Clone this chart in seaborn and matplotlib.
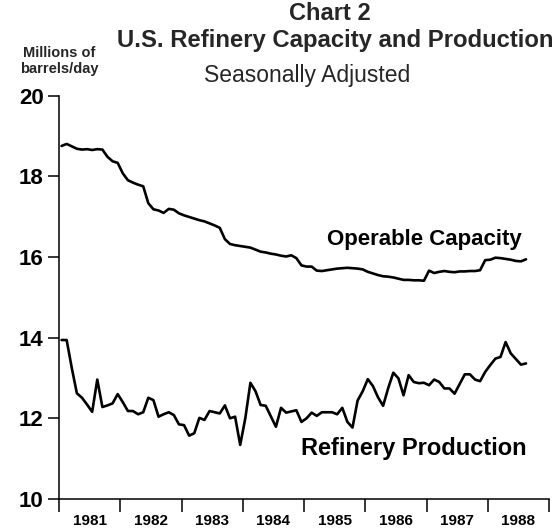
import numpy as np
import pandas as pd
import matplotlib
matplotlib.use("Agg")
import matplotlib.pyplot as plt
import seaborn as sns

# Monthly data, Jan 1981 - Aug 1988 (millions of barrels/day)
capacity = [18.75, 18.80, 18.74, 18.68, 18.66, 18.67, 18.65, 18.67, 18.66, 18.48, 18.37, 18.33,
            18.07, 17.90, 17.84, 17.79, 17.75, 17.33, 17.18, 17.15, 17.09, 17.19, 17.17, 17.08,
            17.03, 16.99, 16.95, 16.91, 16.88, 16.83, 16.78, 16.72, 16.44, 16.32, 16.29, 16.27,
            16.25, 16.23, 16.18, 16.13, 16.11, 16.08, 16.06, 16.03, 16.01, 16.04, 15.97, 15.79,
            15.76, 15.76, 15.66, 15.65, 15.67, 15.69, 15.71, 15.72, 15.73, 15.72, 15.71, 15.69,
            15.63, 15.59, 15.55, 15.52, 15.51, 15.49, 15.46, 15.43, 15.43, 15.42, 15.42, 15.41,
            15.66, 15.60, 15.63, 15.65, 15.63, 15.62, 15.64, 15.64, 15.65, 15.65, 15.67, 15.92,
            15.93, 15.98, 15.97, 15.95, 15.93, 15.90, 15.89, 15.94]
production = [13.94, 13.94, 13.25, 12.62, 12.51, 12.34, 12.16, 12.96, 12.28, 12.32, 12.37, 12.60,
              12.40, 12.18, 12.18, 12.10, 12.15, 12.51, 12.45, 12.04, 12.10, 12.15, 12.08, 11.85,
              11.83, 11.57, 11.63, 12.01, 11.96, 12.18, 12.15, 12.12, 12.32, 12.00, 12.04, 11.34,
              12.00, 12.88, 12.67, 12.33, 12.31, 12.05, 11.79, 12.26, 12.14, 12.17, 12.20, 11.91,
              12.00, 12.14, 12.06, 12.15, 12.15, 12.15, 12.10, 12.26, 11.91, 11.77, 12.44, 12.67,
              12.97, 12.80, 12.52, 12.31, 12.75, 13.13, 12.99, 12.57, 13.07, 12.90, 12.87, 12.88,
              12.82, 12.96, 12.90, 12.74, 12.74, 12.61, 12.85, 13.09, 13.09, 12.96, 12.92, 13.15,
              13.32, 13.48, 13.52, 13.89, 13.61, 13.47, 13.33, 13.36]
start_year = 1981
years = [1981, 1982, 1983, 1984, 1985, 1986, 1987, 1988]
y_ticks = [10, 12, 14, 16, 18, 20]

n = len(capacity)
t = [start_year + (i + 0.5) / 12 for i in range(n)]
df = pd.DataFrame({
    "t": t * 2,
    "value": capacity + production,
    "series": ["Operable Capacity"] * n + ["Refinery Production"] * n,
})

sns.set_theme(style="ticks")
plt.rcParams["font.family"] = ["Liberation Sans", "DejaVu Sans"]

fig = plt.figure(figsize=(5.56, 5.31), dpi=100)
ax = fig.add_axes([59 / 556, 32 / 531, 490 / 556, 403.5 / 531])

sns.lineplot(data=df, x="t", y="value", hue="series",
             palette=["black", "black"], linewidth=1.9, legend=False, ax=ax)

ax.set_xlim(1981, 1989)
ax.set_ylim(10, 20)
ax.set_xlabel("")
ax.set_ylabel("")

ax.set_xticks(list(range(1981, 1990)))
ax.set_xticklabels([])
ax.set_xticks([y + 0.5 for y in years], minor=True)
ax.set_xticklabels([str(y) for y in years], minor=True, fontsize=11, fontweight="bold")
ax.tick_params(axis="x", which="major", direction="out", length=9, width=1.1, color="black")
ax.tick_params(axis="x", which="minor", length=0, pad=11, labelcolor="black")

ax.set_yticks(y_ticks)
ax.set_yticklabels([str(v) for v in y_ticks], fontsize=16, fontweight="bold")
ax.tick_params(axis="y", direction="out", length=8, width=1.1, pad=3, color="black", labelcolor="black")

for s in ["top", "right"]:
    ax.spines[s].set_visible(False)
for s in ["left", "bottom"]:
    ax.spines[s].set_linewidth(1.1)
    ax.spines[s].set_color("black")

ax.text(1986.96, 16.44, "Operable Capacity", ha="center", va="center",
        fontsize=16, fontweight="bold", color="black")
ax.text(1986.8, 11.24, "Refinery Production", ha="center", va="center",
        fontsize=17, fontweight="bold", color="black")

fig.text(330 / 556, 1 - 13 / 531, "Chart 2", ha="center", va="center",
         fontsize=17, fontweight="bold")
fig.text(335 / 556, 1 - 40 / 531, "U.S. Refinery Capacity and Production", ha="center", va="center",
         fontsize=17.2, fontweight="bold")
fig.text(307 / 556, 1 - 76 / 531, "Seasonally Adjusted", ha="center", va="center",
         fontsize=16.5, fontweight="normal")
fig.text(59 / 556, 1 - 61 / 531, "Millions of\nbarrels/day", ha="center", va="center",
         fontsize=10.5, fontweight="bold", linespacing=1.15)

fig.savefig("out.png", dpi=100)
